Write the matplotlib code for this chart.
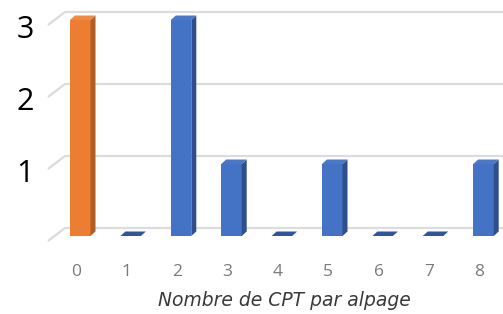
import matplotlib
matplotlib.use("Agg")
import matplotlib.pyplot as plt
from matplotlib.patches import Polygon
import matplotlib.transforms as mtransforms

categories = ["0", "1", "2", "3", "4", "5", "6", "7", "8"]
values = [3, 0, 3, 1, 0, 1, 0, 0, 1]
y_ticks = [1, 2, 3]
grid_levels = [0, 1, 2, 3]
x_label = "Nombre de CPT par alpage"

front_colors = {"orange": "#ED7D31", "blue": "#4472C4"}
side_colors = {"orange": "#B05E24", "blue": "#2E4F8C"}
top_colors = {"orange": "#F08A45", "blue": "#4A78C8"}
bar_color_keys = ["orange"] + ["blue"] * (len(values) - 1)

W, H, DPI = 503, 314, 100
fig = plt.figure(figsize=(W / DPI, H / DPI), dpi=DPI)
ax = fig.add_axes([0, 0, 1, 1])

# pixel mapping: x_px = 80.25 + 50.4*i ; y_px(from top) = 236 - 72*v
px_x = 50.4
px_y = 72.0
x0 = -80.25 / px_x
x1 = (W - 80.25) / px_x
y_top = 236 / px_y
y_bot = (236 - H) / px_y
ax.set_xlim(x0, x1)
ax.set_ylim(y_bot, y_top)
ax.axis("off")

# back wall gridlines
wall_dy = 8 / px_y
wall_x = (65 - 80.25) / px_x
diag_dx = -17 / px_x
diag_dy = -13 / px_y
for g in grid_levels:
    ax.plot([wall_x + diag_dx, wall_x, x1], [g + wall_dy + diag_dy, g + wall_dy, g + wall_dy],
            color="#DCDCDC", lw=1.6, solid_capstyle="butt", zorder=1)

# bars
bw = 20.5 / px_x
ddx = 5 / px_x
ddy = 4.5 / px_y
for i, (v, key) in enumerate(zip(values, bar_color_keys)):
    left = i - bw / 2
    right = i + bw / 2
    if v > 0:
        ax.bar(i, v, width=bw, color=front_colors[key], zorder=3, linewidth=0)
        side = Polygon([(right, 0), (right + ddx, ddy), (right + ddx, v + ddy), (right, v)],
                       closed=True, facecolor=side_colors[key], edgecolor="none", zorder=3)
        ax.add_patch(side)
    top = Polygon([(left, v), (right, v), (right + ddx, v + ddy), (left + ddx, v + ddy)],
                  closed=True, facecolor=top_colors[key] if v > 0 else "#2F55A0",
                  edgecolor="none", zorder=4)
    ax.add_patch(top)

# y tick labels
ylab_tr = ax.get_yaxis_transform()
off_y = mtransforms.ScaledTranslation(0, -10 / DPI, fig.dpi_scale_trans)
for t in y_ticks:
    ax.text(34 / W, t, str(t), transform=ylab_tr + off_y, ha="right", va="center",
            fontsize=22, family="Open Sans", color="black")

# x tick labels
xlab_tr = ax.get_xaxis_transform()
off_x = mtransforms.ScaledTranslation(-4 / DPI, 0, fig.dpi_scale_trans)
for i, c in enumerate(categories):
    ax.text(i, 1 - 272 / H, c, transform=xlab_tr + off_x, ha="center", va="center",
            fontsize=12.5, family="Open Sans", color="#7A7A7A")

fig.text(284 / W, 1 - 300 / H, x_label, ha="center", va="center", fontsize=13.5,
         style="italic", family="DejaVu Sans", color="#3A3A3A")

fig.savefig("out.png", dpi=DPI)
